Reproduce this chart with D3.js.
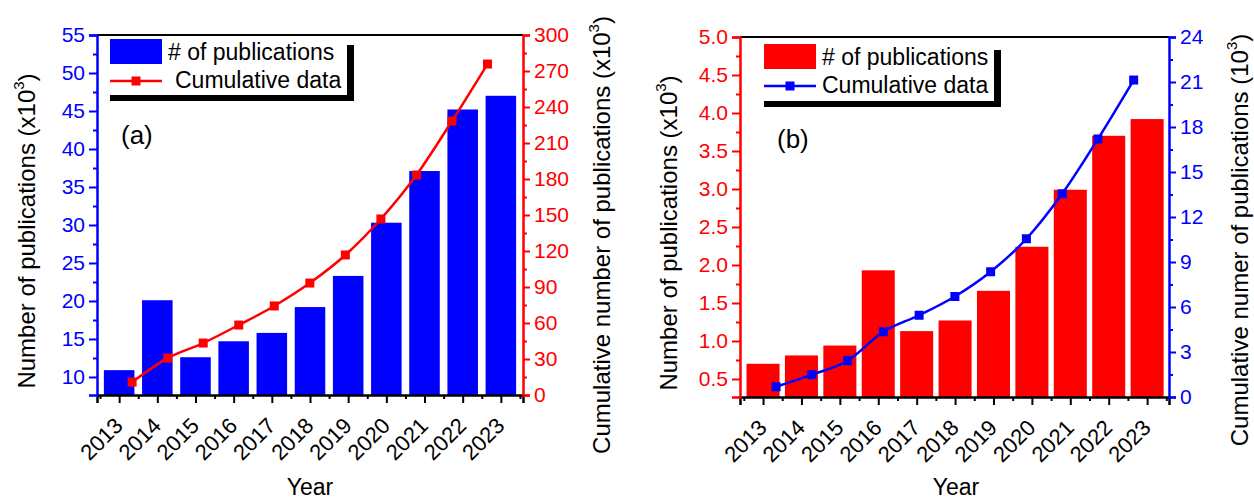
<!DOCTYPE html>
<html><head><meta charset="utf-8">
<script src="https://cdn.jsdelivr.net/npm/d3@7"></script>
<style>
html,body{margin:0;padding:0;background:#fff;}
svg{display:block;font-family:"Liberation Sans",Arial,sans-serif;}
</style></head>
<body>
<svg id="chart" width="1254" height="499"></svg>
<script>
// ---------- DATA ----------
const years = [2013,2014,2015,2016,2017,2018,2019,2020,2021,2022,2023];
const pubsA = [10.9,20.1,12.6,14.7,15.8,19.2,23.3,30.3,37.1,45.2,47.0];
const cumA  = [10.8,30.8,43.3,58.3,74.2,93.3,116.7,146.7,183.3,228.3,275.8];
const pubsB = [0.70,0.81,0.94,1.93,1.13,1.27,1.66,2.24,2.99,3.70,3.92];
const cumB  = [0.68,1.49,2.42,4.35,5.45,6.70,8.35,10.55,13.55,17.20,21.13];
const leftTicksA  = [10,15,20,25,30,35,40,45,50,55];
const rightTicksA = [0,30,60,90,120,150,180,210,240,270,300];
const leftTicksB  = [0.5,1.0,1.5,2.0,2.5,3.0,3.5,4.0,4.5,5.0];
const rightTicksB = [0,3,6,9,12,15,18,21,24];
const legendLabels = ["# of publications","Cumulative data"];

const svg = d3.select("#chart");
const FONT = '"Liberation Sans",Arial,sans-serif';

function panel(cfg){
  const g = svg.append("g");
  const x = d3.scaleLinear().domain(cfg.xDomain).range([cfg.x0, cfg.x1]);
  const yL = d3.scaleLinear().domain(cfg.yLDomain).range([cfg.yB, cfg.yT]);
  const yR = d3.scaleLinear().domain(cfg.yRDomain).range([cfg.yB, cfg.yT]);
  const step = x(2014) - x(2013);
  const bw = step * cfg.barFrac;
  const lx = d3.scaleLinear().domain([years[0], years[years.length-1]])
               .range([x(years[0]+0.34), x(years[years.length-1]-0.35)]);

  // bars
  g.selectAll("rect.bar").data(years).join("rect")
    .attr("x", (d)=>x(d)-bw/2).attr("width", bw)
    .attr("y", (d,i)=>yL(cfg.bars[i]))
    .attr("height", (d,i)=>cfg.yB - yL(cfg.bars[i]))
    .attr("fill", cfg.barColor);

  // line
  const line = d3.line().x((d,i)=>lx(years[i])).y(d=>yR(d)).curve(d3.curveMonotoneX);
  g.append("path").datum(cfg.cum).attr("d", line)
    .attr("fill","none").attr("stroke", cfg.lineColor).attr("stroke-width", 2.5);
  g.selectAll("rect.mk").data(cfg.cum).join("rect")
    .attr("x",(d,i)=>lx(years[i])-4.5).attr("y",d=>yR(d)-4.5)
    .attr("width",9).attr("height",9).attr("fill",cfg.lineColor);

  // top frame
  g.append("line").attr("x1",cfg.x0).attr("x2",cfg.x1).attr("y1",cfg.yT).attr("y2",cfg.yT)
    .attr("stroke","#000").attr("stroke-width",2);

  // x axis
  const minorX = years.map(d=>d-0.5).concat([years[years.length-1]+0.5]);
  const xa = g.append("g").attr("transform",`translate(0,${cfg.yB})`)
    .call(d3.axisBottom(x).tickValues(years).tickSize(8).tickFormat(""));
  xa.select(".domain").attr("stroke","#000").attr("stroke-width",2.5);
  xa.selectAll(".tick line").attr("stroke","#000").attr("stroke-width",2);
  const xm = g.append("g").attr("transform",`translate(0,${cfg.yB})`)
    .call(d3.axisBottom(x).tickValues(minorX).tickSize(4).tickFormat(""));
  xm.select(".domain").remove();
  xm.selectAll(".tick line").attr("stroke","#000").attr("stroke-width",2);
  g.selectAll("text.xl").data(years).join("text")
    .attr("transform", d=>`translate(${x(d)+5},${cfg.yB+32}) rotate(-45)`)
    .attr("text-anchor","end").attr("font-size",22).attr("fill","#000")
    .text(d=>d);
  g.append("text").attr("x", cfg.yearX).attr("y", 495).attr("text-anchor","middle")
    .attr("font-size",23).attr("fill","#000").text("Year");

  // left axis
  const la = g.append("g").attr("transform",`translate(${cfg.x0},0)`)
    .call(d3.axisLeft(yL).tickValues(cfg.leftTicks).tickSize(8).tickPadding(4).tickFormat(cfg.leftFmt));
  la.select(".domain").attr("stroke",cfg.leftColor).attr("stroke-width",2.5);
  la.selectAll(".tick line").attr("stroke",cfg.leftColor).attr("stroke-width",2);
  la.selectAll(".tick text").attr("fill",cfg.leftColor).attr("font-size",21).attr("font-family",FONT);
  const lStep = cfg.leftTicks[1]-cfg.leftTicks[0];
  const lMinor = cfg.leftTicks.map(d=>d-lStep/2).filter(d=>d>=cfg.yLDomain[0]);
  const lm = g.append("g").attr("transform",`translate(${cfg.x0},0)`)
    .call(d3.axisLeft(yL).tickValues(lMinor).tickSize(4).tickFormat(""));
  lm.select(".domain").remove();
  lm.selectAll(".tick line").attr("stroke",cfg.leftColor).attr("stroke-width",2);

  // right axis
  const ra = g.append("g").attr("transform",`translate(${cfg.x1},0)`)
    .call(d3.axisRight(yR).tickValues(cfg.rightTicks).tickSize(7).tickPadding(4));
  ra.select(".domain").attr("stroke",cfg.rightColor).attr("stroke-width",2.5);
  ra.selectAll(".tick line").attr("stroke",cfg.rightColor).attr("stroke-width",2);
  ra.selectAll(".tick text").attr("fill",cfg.rightColor).attr("font-size",21).attr("font-family",FONT);
  const rStep = cfg.rightTicks[1]-cfg.rightTicks[0];
  const rMinor = cfg.rightTicks.slice(1).map(d=>d-rStep/2);
  const rm = g.append("g").attr("transform",`translate(${cfg.x1},0)`)
    .call(d3.axisRight(yR).tickValues(rMinor).tickSize(4).tickFormat(""));
  rm.select(".domain").remove();
  rm.selectAll(".tick line").attr("stroke",cfg.rightColor).attr("stroke-width",2);

  // axis titles
  function vtitle(xp, yp, main, sup, tail){
    const t = g.append("text").attr("transform",`translate(${xp},${yp}) rotate(-90)`)
      .attr("text-anchor","middle").attr("font-size",24).attr("fill","#000");
    t.append("tspan").text(main);
    t.append("tspan").attr("font-size",15).attr("dy",-11).text(sup);
    t.append("tspan").attr("dy",11).text(tail);
  }
  vtitle(cfg.lTitleX, cfg.lTitleY, "Number of publications (x10", "3", ")");
  vtitle(cfg.rTitleX, cfg.rTitleY, cfg.rTitle, "3", ")");

  // panel label
  g.append("text").attr("x",cfg.tagX).attr("y",cfg.tagY).attr("font-size",26)
    .attr("fill","#000").text(cfg.tag);

  // legend
  const L = cfg.leg;
  g.append("rect").attr("x",L.x).attr("y",L.y+L.h-6).attr("width",L.w).attr("height",6).attr("fill","#000");
  g.append("rect").attr("x",L.x+L.w-7).attr("y",L.y+6).attr("width",7).attr("height",L.h-6).attr("fill","#000");
  g.append("rect").attr("x",L.x).attr("y",L.y).attr("width",52).attr("height",25).attr("fill",cfg.barColor);
  g.append("text").attr("x",L.x+58).attr("y",L.y+21).attr("font-size",23).attr("fill","#000").text(legendLabels[0]);
  g.append("line").attr("x1",L.x).attr("x2",L.x+52).attr("y1",L.y+42).attr("y2",L.y+42)
    .attr("stroke",cfg.lineColor).attr("stroke-width",2.5);
  g.append("rect").attr("x",L.x+26-4.5).attr("y",L.y+42-4.5).attr("width",9).attr("height",9).attr("fill",cfg.lineColor);
  g.append("text").attr("x",L.x+L.t2).attr("y",L.y+49).attr("font-size",23).attr("fill","#000").text(legendLabels[1]);
}

panel({
  x0:97, x1:523, yT:35, yB:395, xDomain:[2012.42,2023.58],
  yLDomain:[7.63,55], yRDomain:[0,300], barFrac:0.8,
  bars:pubsA, cum:cumA, barColor:"#0000ff", lineColor:"#ff0000",
  leftColor:"#0000ff", rightColor:"#ff0000",
  leftTicks:leftTicksA, rightTicks:rightTicksA, leftFmt:d3.format("d"),
  lTitleX:35, lTitleY:231, rTitleX:610, rTitleY:235,
  rTitle:"Cumulative number of publications (x10",
  yearX:310, tag:"(a)", tagX:121, tagY:144,
  leg:{x:110, y:39, w:244, h:62, t2:65}
});
panel({
  x0:740, x1:1169, yT:37, yB:397, xDomain:[2012.4,2023.57],
  yLDomain:[0.263,5.0], yRDomain:[0,24], barFrac:0.86,
  bars:pubsB, cum:cumB, barColor:"#ff0000", lineColor:"#0000ff",
  leftColor:"#ff0000", rightColor:"#0000ff",
  leftTicks:leftTicksB, rightTicks:rightTicksB, leftFmt:d3.format(".1f"),
  lTitleX:677, lTitleY:233, rTitleX:1248, rTitleY:240,
  rTitle:"Cumulative numer of publications (10",
  yearX:956, tag:"(b)", tagX:777, tagY:148,
  leg:{x:764, y:44, w:237, h:63, t2:58}
});
</script>
</body></html>
